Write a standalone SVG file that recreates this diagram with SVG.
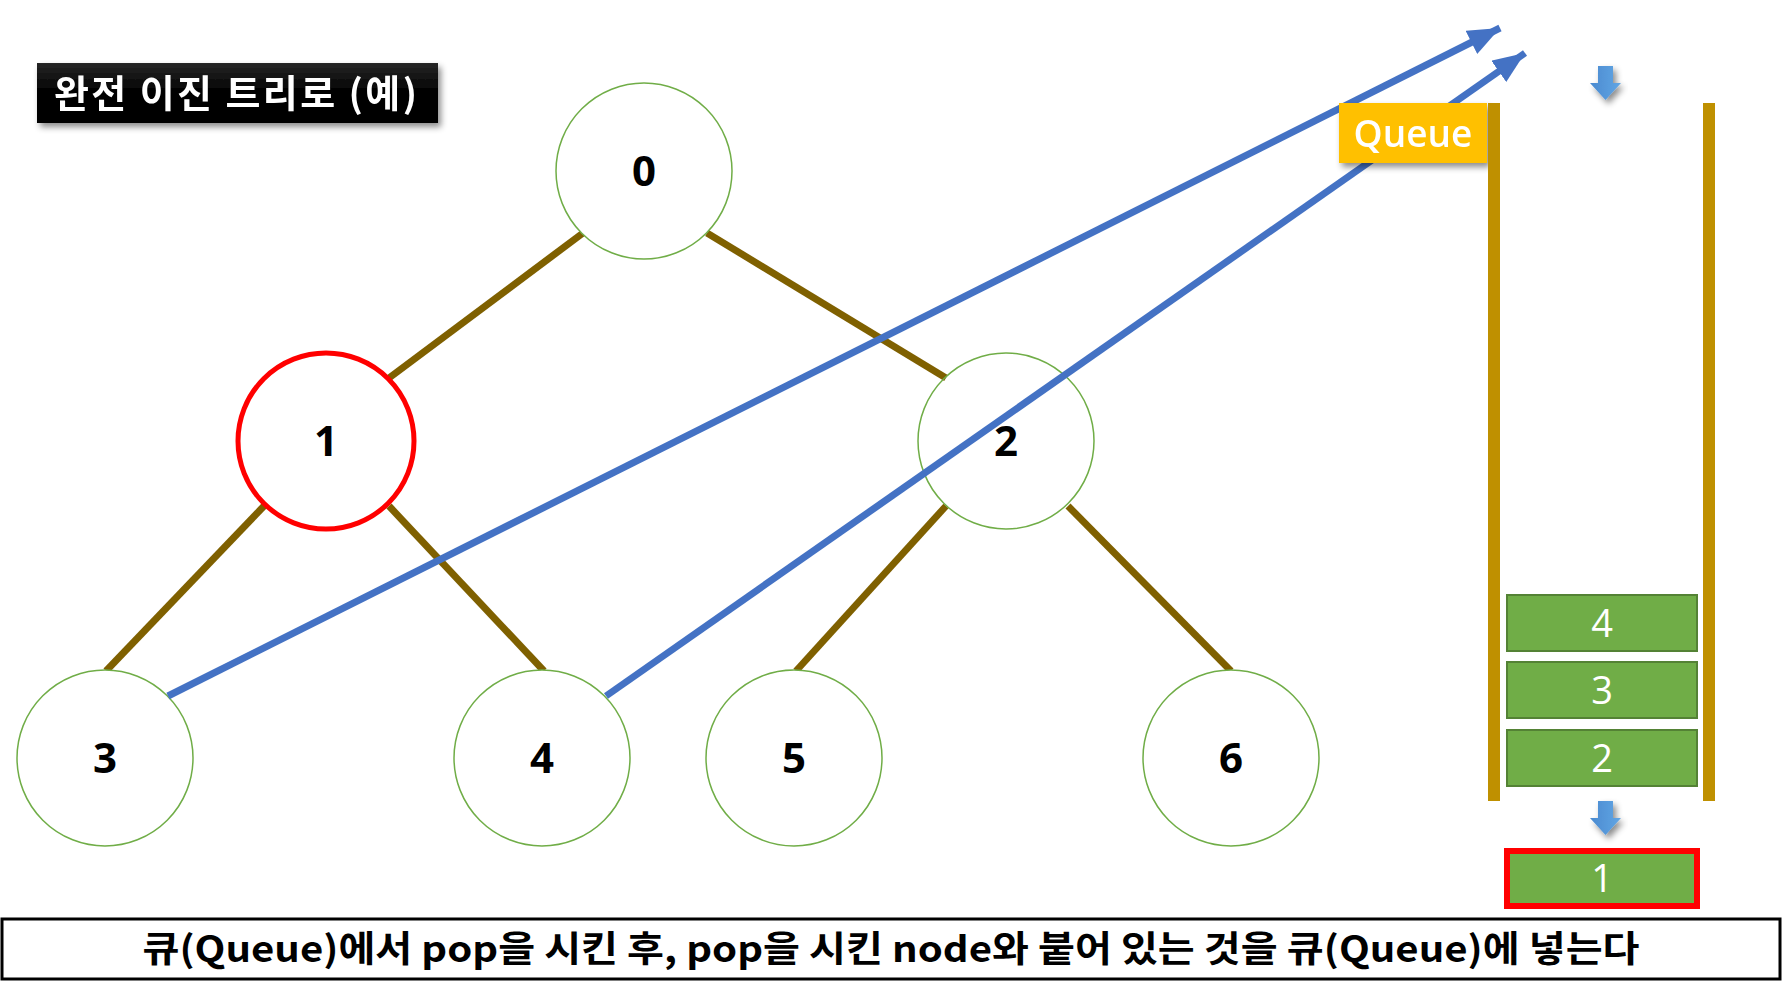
<svg xmlns="http://www.w3.org/2000/svg" width="1782" height="994" viewBox="0 0 1782 994">
<style>
.node{fill:#ffffff;stroke:#70AD47;stroke-width:1.5}
.sel{fill:#ffffff;stroke:#FF0000;stroke-width:5}
.num{font-family:"Noto Sans","Liberation Sans",sans-serif;font-weight:bold;font-size:42px;fill:#000;text-anchor:middle}
.edge{stroke:#7F6000;stroke-width:7;fill:none}
.blue{stroke:#4472C4;stroke-width:7;fill:none;marker-end:url(#ah)}
.bar{fill:#BF9000}
.qbox{fill:#70AD47;stroke:#548235;stroke-width:2}
.qnum{font-family:"Open Sans","Noto Sans","Liberation Sans",sans-serif;font-size:38px;fill:#fff;text-anchor:middle}
</style>
<defs>
<marker id="ah" markerWidth="32" markerHeight="26" refX="32" refY="13" orient="auto" markerUnits="userSpaceOnUse" viewBox="0 0 32 26">
<path d="M0,0 L32,13 L0,26 Z" fill="#4472C4"/>
</marker>
<filter id="sh" x="-10%" y="-20%" width="130%" height="160%">
<feDropShadow dx="3" dy="4" stdDeviation="3" flood-color="#000" flood-opacity="0.45"/>
</filter>
<linearGradient id="tg" x1="0" y1="0" x2="0" y2="1">
<stop offset="0" stop-color="#262626"/>
<stop offset="0.5" stop-color="#000"/>
<stop offset="1" stop-color="#000"/>
</linearGradient>
<linearGradient id="ag" x1="0" y1="0" x2="1" y2="0">
<stop offset="0" stop-color="#4A8AD0"/>
<stop offset="1" stop-color="#62A6E4"/>
</linearGradient>
<path id="darr" d="M8,0 H23 V17 H31 L15.5,34 L0,17 H8 Z" fill="url(#ag)"/>
</defs>
<rect width="1782" height="994" fill="#ffffff"/>

<g id="title" filter="url(#sh)">
<rect x="37" y="63" width="401" height="60" fill="url(#tg)"/>
<text x="54" y="107" font-family="Noto Sans CJK KR, sans-serif" font-weight="bold" font-size="38" fill="#fff" textLength="363" lengthAdjust="spacing">완전 이진 트리로 (예)</text>
</g>

<g id="edges">
<line class="edge" x1="583" y1="233" x2="389" y2="378"/>
<line class="edge" x1="707" y1="233" x2="946" y2="378"/>
<line class="edge" x1="264" y1="506" x2="106" y2="671"/>
<line class="edge" x1="389" y1="506" x2="544" y2="671"/>
<line class="edge" x1="946" y1="506" x2="796" y2="671"/>
<line class="edge" x1="1068" y1="506" x2="1231" y2="671"/>
</g>

<g id="node0"><circle class="node" cx="644" cy="171" r="88"/><text class="num" x="644" y="186">0</text></g>
<g id="node1"><circle class="sel" cx="326" cy="441" r="88"/><text class="num" x="326" y="456">1</text></g>
<g id="node2"><circle class="node" cx="1006" cy="441" r="88" fill-opacity="0"/><text class="num" x="1006" y="456">2</text></g>
<g id="node3"><circle class="node" cx="105" cy="758" r="88"/><text class="num" x="105" y="773">3</text></g>
<g id="node4"><circle class="node" cx="542" cy="758" r="88"/><text class="num" x="542" y="773">4</text></g>
<g id="node5"><circle class="node" cx="794" cy="758" r="88"/><text class="num" x="794" y="773">5</text></g>
<g id="node6"><circle class="node" cx="1231" cy="758" r="88"/><text class="num" x="1231" y="773">6</text></g>

<g id="connectors">
<line class="blue" x1="168" y1="696" x2="1500" y2="28"/>
<line class="blue" x1="606" y1="696" x2="1525" y2="53"/>
</g>

<g id="queue-label" filter="url(#sh)">
<rect x="1339" y="103" width="148" height="60" fill="#FFC000"/>
<text x="1413" y="147" font-family="Open Sans, Noto Sans, sans-serif" font-weight="600" font-size="37" fill="#fff" text-anchor="middle">Queue</text>
</g>

<g id="queue">
<rect class="bar" x="1488" y="103" width="12" height="698"/>
<rect class="bar" x="1703" y="103" width="12" height="698"/>
</g>

<g id="arrow-in" filter="url(#sh)"><use href="#darr" x="1590" y="66"/></g>
<g id="arrow-out" filter="url(#sh)"><use href="#darr" x="1590" y="801"/></g>

<g id="q4"><rect class="qbox" x="1507" y="595" width="190" height="56"/><text class="qnum" x="1602" y="637">4</text></g>
<g id="q3"><rect class="qbox" x="1507" y="662" width="190" height="56"/><text class="qnum" x="1602" y="704">3</text></g>
<g id="q2"><rect class="qbox" x="1507" y="730" width="190" height="56"/><text class="qnum" x="1602" y="772">2</text></g>
<g id="q1"><rect x="1507" y="851" width="190" height="55" fill="#70AD47" stroke="#FF0000" stroke-width="6"/><text class="qnum" x="1602" y="892">1</text></g>

<g id="caption">
<rect x="2" y="919" width="1778" height="60" fill="#fff" stroke="#000" stroke-width="3"/>
<text x="891" y="962" font-family="Noto Sans CJK KR, sans-serif" font-weight="bold" font-size="36" fill="#000" text-anchor="middle" textLength="1497" lengthAdjust="spacingAndGlyphs">큐(Queue)에서 pop을 시킨 후, pop을 시킨 node와 붙어 있는 것을 큐(Queue)에 넣는다</text>
</g>
</svg>
